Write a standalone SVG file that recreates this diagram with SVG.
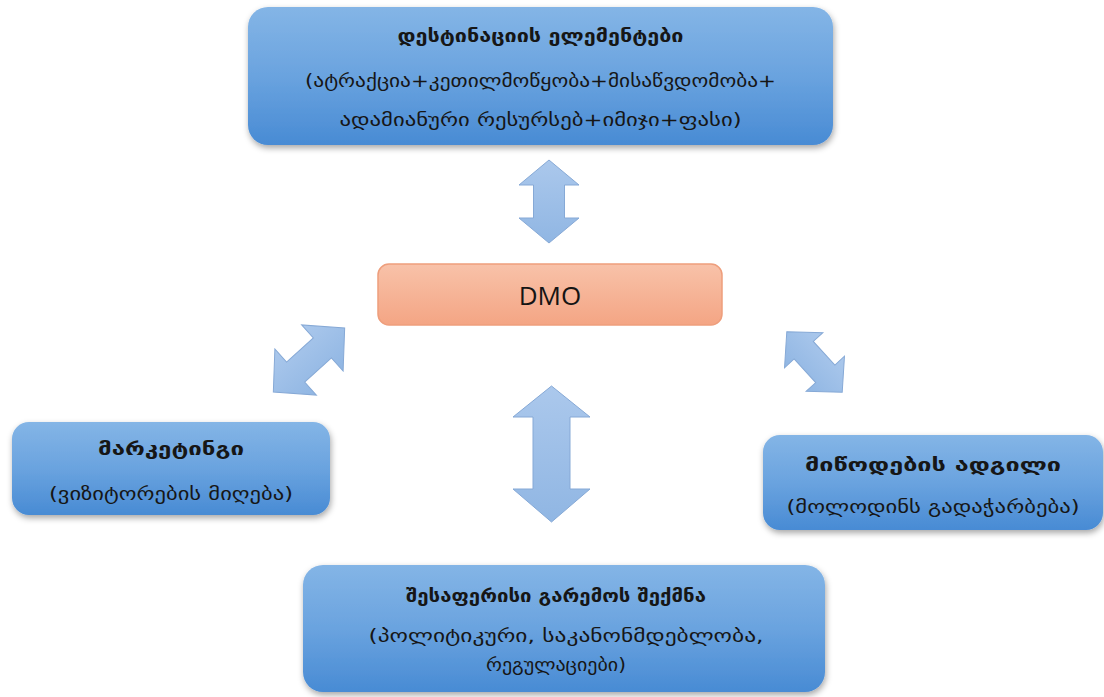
<svg xmlns="http://www.w3.org/2000/svg" width="1104" height="697" viewBox="0 0 1104 697">
  <style>
    .box { fill: url(#blueFill); filter: url(#shadow); }
    .dmo { fill: url(#orangeFill); stroke: #ee9e7c; stroke-width: 1.5; }
    .arrow { fill: url(#arrowFill); stroke: #86a9d6; stroke-width: 1; }
    .t { font-family: "DejaVu Sans", "Noto Sans", sans-serif; fill: #161616; text-anchor: middle; dominant-baseline: central; }
    .title { font-size: 17px; font-weight: bold; }
    .sub { font-size: 18px; }
    .dmo-label { font-family: "Open Sans", "Liberation Sans", sans-serif; font-size: 26px; fill: #141414; text-anchor: middle; dominant-baseline: central; }
  </style>
  <defs>
    <linearGradient id="blueFill" x1="0" y1="0" x2="0" y2="1">
      <stop offset="0" stop-color="#84b5e6"/>
      <stop offset="0.5" stop-color="#6aa3df"/>
      <stop offset="1" stop-color="#488bd4"/>
    </linearGradient>
    <linearGradient id="orangeFill" x1="0" y1="0" x2="0" y2="1">
      <stop offset="0" stop-color="#f8c2a9"/>
      <stop offset="1" stop-color="#f4a584"/>
    </linearGradient>
    <linearGradient id="arrowFill" x1="0" y1="0" x2="0" y2="1">
      <stop offset="0" stop-color="#abc8ec"/>
      <stop offset="1" stop-color="#90b6e3"/>
    </linearGradient>
    <filter id="shadow" x="-10%" y="-10%" width="120%" height="130%">
      <feDropShadow dx="1" dy="3" stdDeviation="3" flood-color="#000" flood-opacity="0.35"/>
    </filter>
  </defs>

  <rect width="1104" height="697" fill="#ffffff"/>

  <!-- double-headed connectors -->
  <g id="connectors">
    <polygon class="arrow" points="549,160 579,185 564.5,185 564.5,218 579,218 549,243 519,218 533.5,218 533.5,185 519,185"/>
    <polygon class="arrow" points="551.5,386 590,417 570,417 570,489 590,489 551.5,522 513,489 533,489 533,417 513,417"/>
    <polygon class="arrow" transform="translate(309 360) rotate(-42)" points="-48,0 -18,-31 -18,-13.5 18,-13.5 18,-31 48,0 18,31 18,13.5 -18,13.5 -18,31"/>
    <polygon class="arrow" transform="translate(814.5 362) rotate(47.5)" points="-41,0 -16,-26 -16,-13 16,-13 16,-26 41,0 16,26 16,13 -16,13 -16,26"/>
  </g>

  <g id="destination-elements">
    <rect class="box" x="248" y="7" width="585" height="138" rx="20"/>
    <text class="t title" x="540.5" y="36" textLength="286" lengthAdjust="spacingAndGlyphs">დესტინაციის ელემენტები</text>
    <text class="t sub" x="540.5" y="80" textLength="471" lengthAdjust="spacingAndGlyphs">(ატრაქცია+კეთილმოწყობა+მისაწვდომობა+</text>
    <text class="t sub" x="540.5" y="119" textLength="402" lengthAdjust="spacingAndGlyphs">ადამიანური რესურსებ+იმიჯი+ფასი)</text>
  </g>

  <g id="dmo">
    <rect class="dmo" x="378" y="264" width="344" height="61" rx="11"/>
    <text class="dmo-label" x="550" y="295">DMO</text>
  </g>

  <g id="marketing">
    <rect class="box" x="12" y="422" width="318" height="93" rx="17"/>
    <text class="t title" x="171" y="449" textLength="146" lengthAdjust="spacingAndGlyphs">მარკეტინგი</text>
    <text class="t sub" x="171" y="493" textLength="244" lengthAdjust="spacingAndGlyphs">(ვიზიტორების მიღება)</text>
  </g>

  <g id="supply-location">
    <rect class="box" x="763" y="435" width="340" height="95" rx="17"/>
    <text class="t title" x="933" y="465" textLength="256" lengthAdjust="spacingAndGlyphs">მიწოდების ადგილი</text>
    <text class="t sub" x="933" y="506" textLength="293" lengthAdjust="spacingAndGlyphs">(მოლოდინს გადაჭარბება)</text>
  </g>

  <g id="environment">
    <rect class="box" x="303" y="565" width="522" height="127" rx="20"/>
    <text class="t title" x="556" y="596" textLength="300" lengthAdjust="spacingAndGlyphs">შესაფერისი გარემოს შექმნა</text>
    <text class="t sub" x="566" y="635" textLength="395" lengthAdjust="spacingAndGlyphs">(პოლიტიკური, საკანონმდებლობა,</text>
    <text class="t sub" x="556" y="664" textLength="140" lengthAdjust="spacingAndGlyphs">რეგულაციები)</text>
  </g>
</svg>
